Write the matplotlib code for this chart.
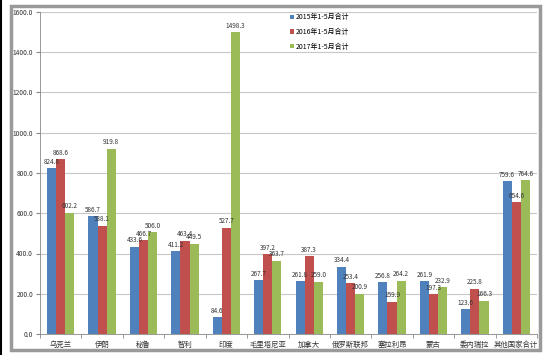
import numpy as np
import matplotlib
matplotlib.use("Agg")
from matplotlib import pyplot as plt
from matplotlib.patches import Rectangle

plt.rcParams["font.family"] = ["Noto Sans CJK SC", "DejaVu Sans"]

categories = ["乌克兰", "伊朗", "秘鲁", "智利", "印度", "毛里塔尼亚", "加拿大",
              "俄罗斯联邦", "塞拉利昂", "蒙古", "委内瑞拉", "其他国家合计"]
series_names = ["2015年1-5月合计", "2016年1-5月合计", "2017年1-5月合计"]
values_2015 = [824.8, 586.7, 433.6, 411.2, 84.6, 267.7, 261.8, 334.4, 256.8, 261.9, 123.6, 759.6]
values_2016 = [868.6, 538.1, 466.7, 463.4, 527.7, 397.2, 387.3, 253.4, 159.9, 197.3, 225.8, 654.6]
values_2017 = [602.2, 919.8, 506.0, 449.5, 1498.3, 363.7, 259.0, 200.9, 264.2, 232.9, 166.3, 764.6]
y_ticks = [0, 200, 400, 600, 800, 1000, 1200, 1400, 1600]

colors = ["#4F81BD", "#C0504D", "#9BBB59"]

fig = plt.figure(figsize=(5.5, 3.55), dpi=100)
fig.patch.set_facecolor("white")

# outer chart frame with grey shadow and black left edge
fig.patches.append(Rectangle((11 / 550, 1 - 350 / 355), 529 / 550, 344 / 355,
                             transform=fig.transFigure, fill=False,
                             edgecolor="#9a9a9a", linewidth=2.5, zorder=0))
fig.patches.append(Rectangle((1 / 550, 0), 0, 1, transform=fig.transFigure,
                             fill=False, edgecolor="black", linewidth=1.5))

ax = fig.add_axes([40 / 550, 1 - 334 / 355, 497 / 550, 322 / 355])

x = np.arange(len(categories))
width = 0.22
all_values = [values_2015, values_2016, values_2017]
for i, (name, vals) in enumerate(zip(series_names, all_values)):
    offs = (i - 1) * width
    bars = ax.bar(x + offs, vals, width, color=colors[i], label=name, zorder=3)
    for b, v in zip(bars, vals):
        ax.text(b.get_x() + b.get_width() / 2, v + 12, f"{v:.1f}",
                ha="center", va="bottom", fontsize=4.6, color="#333333", zorder=4)

ax.set_xlim(-0.5, len(categories) - 0.5)
ax.set_ylim(0, 1600)
ax.set_yticks(y_ticks)
ax.set_yticklabels([f"{t:.1f}" for t in y_ticks], fontsize=4.8, color="#333333")
ax.set_xticks(x)
ax.set_xticklabels(categories, fontsize=5.3, color="#333333")
ax.set_xticks(np.arange(-0.5, len(categories)), minor=True)
ax.tick_params(axis="x", which="major", length=0, pad=5)
ax.tick_params(axis="x", which="minor", length=3, color="#888888")
ax.tick_params(axis="y", length=3, color="#888888", pad=2)
ax.grid(axis="y", color="#c8c8c8", linewidth=0.8, zorder=0)
for side in ["top", "right"]:
    ax.spines[side].set_visible(False)
ax.spines["left"].set_color("#888888")
ax.spines["bottom"].set_color("#888888")
ax.spines["left"].set_linewidth(0.6)
ax.spines["bottom"].set_linewidth(0.6)

ax.legend(loc="upper left", bbox_to_anchor=(0.49, 1.015), fontsize=5, frameon=False,
          handlelength=0.6, handleheight=0.6, handletextpad=0.3, labelspacing=0.95)

fig.savefig("out.png", dpi=100)
